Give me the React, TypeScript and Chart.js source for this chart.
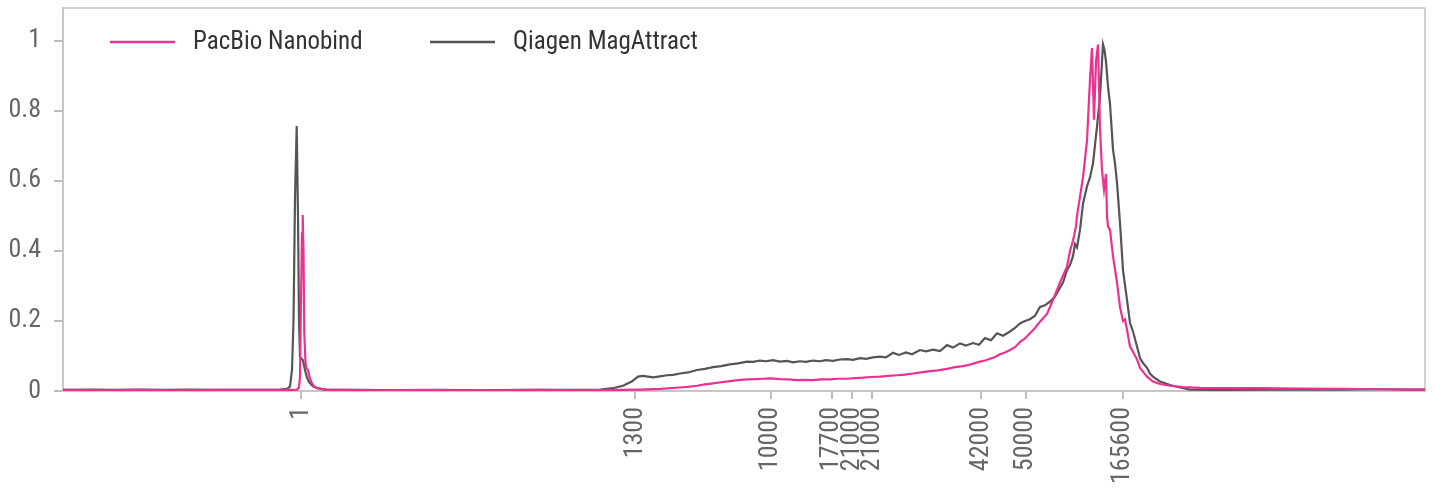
import React, { useEffect, useRef } from 'react';
import { Chart, registerables } from 'chart.js';

Chart.register(...registerables);

// Ladder marker positions (migration time, s) and their size labels
const markerTimes = [23.8, 57.2, 70.75, 76.85, 78.93, 80.93, 91.8, 96.25, 105.95];
const markerLabels = ['1', '1300', '10000', '17700', '21000', '21000', '42000', '50000', '165600'];
const yTickValues = [0, 0.2, 0.4, 0.6, 0.8, 1];

const seriesLabels = ['PacBio Nanobind', 'Qiagen MagAttract'];
const seriesColors = ['#ec3191', '#555555'];

const pacbioTime = [
  0, 3.7, 7.7, 11.7, 15.7, 19.7, 22.7, 23.4, 23.6, 23.7, 23.8, 23.9, 23.97, 24.05, 24.13, 24.25, 24.35, 24.5,
  24.65, 24.87, 25.1, 25.4, 25.9, 26.4, 27.7, 31.7, 35.7, 39.7, 43.7, 47.7, 51.7, 55.7, 57.7, 59.7, 61.7, 62.5,
  63.4, 64.2, 65.0, 65.8, 66.7, 67.5, 68.4, 69.2, 70.0, 70.8, 71.7, 72.5, 73.4, 74.2, 75.0, 75.8, 76.7, 77.5,
  78.4, 79.2, 80.0, 80.8, 81.7, 82.5, 83.4, 84.2, 85.0, 85.8, 86.7, 87.5, 88.4, 89.2, 90.0, 90.8, 91.7, 92.2,
  92.7, 93.2, 93.7, 94.2, 94.7, 95.2, 95.7, 96.2, 96.7, 97.2, 97.7, 98.4, 99.0, 99.7, 100.4, 100.7, 101.0, 101.3,
  101.4, 101.7, 102.0, 102.4, 102.7, 102.9, 103.1, 103.3, 103.5, 103.7, 103.9, 104.1, 104.3, 104.4, 104.5, 104.7,
  105.0, 105.4, 105.7, 106.0, 106.2, 106.4, 106.7, 107.0, 107.4, 107.7, 108.4, 109.0, 109.7, 110.7, 112.0, 113.7,
  116.7, 119.7, 123.7, 127.7, 131.7, 136.2,
];
const pacbioSignal = [
  0.003, 0.002, 0.003, 0.002, 0.003, 0.003, 0.003, 0.004, 0.01, 0.04, 0.26, 0.45, 0.503, 0.4, 0.165, 0.08, 0.065, 0.06,
  0.04, 0.023, 0.014, 0.009, 0.006, 0.004, 0.003, 0.002, 0.003, 0.002, 0.002, 0.003, 0.002, 0.003, 0.004, 0.006, 0.01, 0.012,
  0.015, 0.019, 0.022, 0.025, 0.028, 0.031, 0.033, 0.034, 0.035, 0.036, 0.034, 0.033, 0.031, 0.032, 0.031, 0.033, 0.033, 0.035,
  0.035, 0.037, 0.038, 0.04, 0.041, 0.043, 0.045, 0.047, 0.05, 0.053, 0.057, 0.059, 0.063, 0.068, 0.071, 0.076, 0.084, 0.087,
  0.092, 0.097, 0.105, 0.11, 0.117, 0.125, 0.14, 0.15, 0.165, 0.18, 0.198, 0.22, 0.26, 0.31, 0.355, 0.4, 0.43, 0.47,
  0.5, 0.555, 0.61, 0.715, 0.89, 0.98, 0.775, 0.94, 0.99, 0.75, 0.63, 0.575, 0.62, 0.5, 0.47, 0.46,
  0.385, 0.31, 0.24, 0.2, 0.205, 0.175, 0.127, 0.112, 0.09, 0.066, 0.041, 0.027, 0.02, 0.015, 0.011, 0.009,
  0.008, 0.008, 0.007, 0.006, 0.005, 0.004,
];

const qiagenTime = [
  0, 2.7, 5.2, 7.7, 10.2, 12.7, 15.2, 17.7, 20.2, 21.7, 22.4, 22.7, 22.9, 23.05, 23.2, 23.37, 23.5, 23.6, 23.7,
  23.85, 24.0, 24.2, 24.37, 24.6, 25.0, 25.5, 26.2, 27.7, 29.7, 33.7, 37.7, 41.7, 45.7, 49.7, 52.7, 53.7, 55.0,
  56.0, 56.87, 57.5, 58.0, 58.5, 59.0, 59.7, 60.4, 61.0, 61.7, 62.5, 63.4, 64.2, 65.0, 65.8, 66.7, 67.5, 68.4,
  69.0, 69.7, 70.3, 71.0, 71.7, 72.4, 73.0, 73.7, 74.3, 75.0, 75.7, 76.3, 77.0, 77.7, 78.4, 79.0, 79.7, 80.3,
  81.0, 81.7, 82.3, 83.0, 83.6, 84.3, 84.9, 85.7, 86.3, 87.0, 87.7, 88.4, 89.0, 89.7, 90.3, 91.0, 91.6, 92.2,
  92.8, 93.4, 94.0, 94.7, 95.2, 95.7, 96.2, 96.7, 97.2, 97.7, 98.2, 98.7, 99.2, 99.7, 100.0, 100.4, 100.7, 101.0,
  101.2, 101.4, 101.7, 102.0, 102.4, 102.7, 103.0, 103.4, 103.7, 103.85, 104.0, 104.15, 104.3, 104.5, 104.7, 105.0,
  105.2, 105.4, 105.7, 106.0, 106.4, 106.7, 107.0, 107.4, 107.7, 108.0, 108.4, 108.7, 109.0, 109.7, 110.7, 111.7,
  112.7, 115.7, 119.7, 123.7, 127.7, 130.7, 132.7, 134.7, 136.2,
];
const qiagenSignal = [
  0.003, 0.004, 0.003, 0.004, 0.003, 0.004, 0.003, 0.003, 0.003, 0.004, 0.006, 0.013, 0.06, 0.2, 0.55, 0.757, 0.5, 0.2, 0.098,
  0.092, 0.088, 0.06, 0.041, 0.025, 0.013, 0.007, 0.004, 0.003, 0.003, 0.002, 0.003, 0.002, 0.003, 0.003, 0.003, 0.004, 0.008,
  0.015, 0.027, 0.041, 0.043, 0.041, 0.039, 0.042, 0.045, 0.046, 0.05, 0.053, 0.06, 0.063, 0.068, 0.071, 0.076, 0.079, 0.084,
  0.083, 0.087, 0.085, 0.088, 0.084, 0.086, 0.082, 0.085, 0.083, 0.087, 0.085, 0.088, 0.086, 0.09, 0.091, 0.089, 0.094, 0.092,
  0.096, 0.098, 0.096, 0.109, 0.103, 0.11, 0.105, 0.117, 0.113, 0.118, 0.114, 0.131, 0.124, 0.136, 0.13, 0.137, 0.132, 0.151,
  0.145, 0.165, 0.158, 0.17, 0.18, 0.193, 0.2, 0.205, 0.215, 0.24, 0.245, 0.255, 0.27, 0.295, 0.31, 0.345, 0.36, 0.385,
  0.42, 0.41, 0.46, 0.535, 0.585, 0.61, 0.65, 0.755, 0.84, 0.915, 0.99, 0.975, 0.94, 0.87, 0.82, 0.69,
  0.65, 0.595, 0.48, 0.345, 0.26, 0.195, 0.17, 0.127, 0.094, 0.08, 0.066, 0.05, 0.041, 0.027, 0.017, 0.01,
  0.004, 0.003, 0.004, 0.004, 0.004, 0.005, 0.005, 0.004, 0.004,
];

const FONT = "'Liberation Sans Narrow', 'Roboto Condensed', Roboto, sans-serif";

const framePlugin = {
  id: 'frame',
  beforeDatasetsDraw(chart: any) {
    const { ctx, chartArea } = chart;
    ctx.save();
    ctx.strokeStyle = '#c4c4c4';
    ctx.lineWidth = 1.5;
    ctx.strokeRect(chartArea.left, chartArea.top, chartArea.right - chartArea.left, chartArea.bottom - chartArea.top);
    ctx.restore();
  },
};

const overlayLegend = {
  id: 'overlayLegend',
  afterDatasetsDraw(chart: any) {
    const { ctx } = chart;
    const items = [
      { x: 110, text: seriesLabels[0], color: seriesColors[0] },
      { x: 430, text: seriesLabels[1], color: seriesColors[1] },
    ];
    ctx.save();
    ctx.font = `25px ${FONT}`;
    ctx.textBaseline = 'middle';
    ctx.textAlign = 'left';
    items.forEach((it) => {
      ctx.strokeStyle = it.color;
      ctx.lineWidth = 2.5;
      ctx.beginPath();
      ctx.moveTo(it.x, 42);
      ctx.lineTo(it.x + 65, 42);
      ctx.stroke();
      ctx.fillStyle = '#333333';
      ctx.fillText(it.text, it.x + 83, 43);
    });
    ctx.restore();
  },
};

export default function App() {
  const canvasRef = useRef<HTMLCanvasElement | null>(null);

  useEffect(() => {
    if (!canvasRef.current) return;
    const chart = new Chart(canvasRef.current, {
      type: 'line',
      data: {
        datasets: [
          {
            label: seriesLabels[0],
            data: pacbioTime.map((t, i) => ({ x: t, y: pacbioSignal[i] })),
            borderColor: seriesColors[0],
            borderWidth: 2.2,
            pointRadius: 0,
            tension: 0,
          },
          {
            label: seriesLabels[1],
            data: qiagenTime.map((t, i) => ({ x: t, y: qiagenSignal[i] })),
            borderColor: seriesColors[1],
            borderWidth: 2.2,
            pointRadius: 0,
            tension: 0,
          },
        ],
      },
      options: {
        animation: false,
        responsive: true,
        maintainAspectRatio: false,
        layout: { padding: { top: 8, right: 9, left: 0, bottom: 0 } },
        plugins: { legend: { display: false }, tooltip: { enabled: false } },
        scales: {
          x: {
            type: 'linear',
            min: 0,
            max: 136.2,
            afterBuildTicks: (scale: any) => {
              scale.ticks = markerTimes.map((v) => ({ value: v }));
            },
            afterFit: (scale: any) => {
              scale.height = 99;
              scale.paddingLeft = 0;
              scale.paddingRight = 0;
            },
            ticks: {
              autoSkip: false,
              maxRotation: 90,
              minRotation: 90,
              padding: 8,
              color: '#666666',
              font: { family: FONT, size: 26 },
              callback: (_v: any, i: number) => markerLabels[i],
            },
            grid: { drawOnChartArea: false, drawTicks: true, tickLength: 8, color: '#bdbdbd', lineWidth: 2 },
            border: { display: true, color: '#bdbdbd', width: 1.5 },
          },
          y: {
            type: 'linear',
            min: 0,
            max: 1.094,
            afterBuildTicks: (scale: any) => {
              scale.ticks = yTickValues.map((v) => ({ value: v }));
            },
            afterFit: (scale: any) => {
              scale.width = 63;
              scale.paddingTop = 0;
              scale.paddingBottom = 0;
            },
            ticks: {
              padding: 13,
              color: '#666666',
              font: { family: FONT, size: 26 },
              callback: (v: any) => String(Math.round(Number(v) * 10) / 10),
            },
            grid: { drawOnChartArea: false, drawTicks: true, tickLength: 9, color: '#bdbdbd', lineWidth: 2 },
            border: { display: true, color: '#bdbdbd', width: 1.5 },
          },
        },
      },
      plugins: [framePlugin, overlayLegend],
    });
    return () => chart.destroy();
  }, []);

  return (
    <div style={{ position: 'fixed', left: 0, top: 0, width: 1434, height: 490, background: '#fff' }}>
      <canvas ref={canvasRef} />
    </div>
  );
}
